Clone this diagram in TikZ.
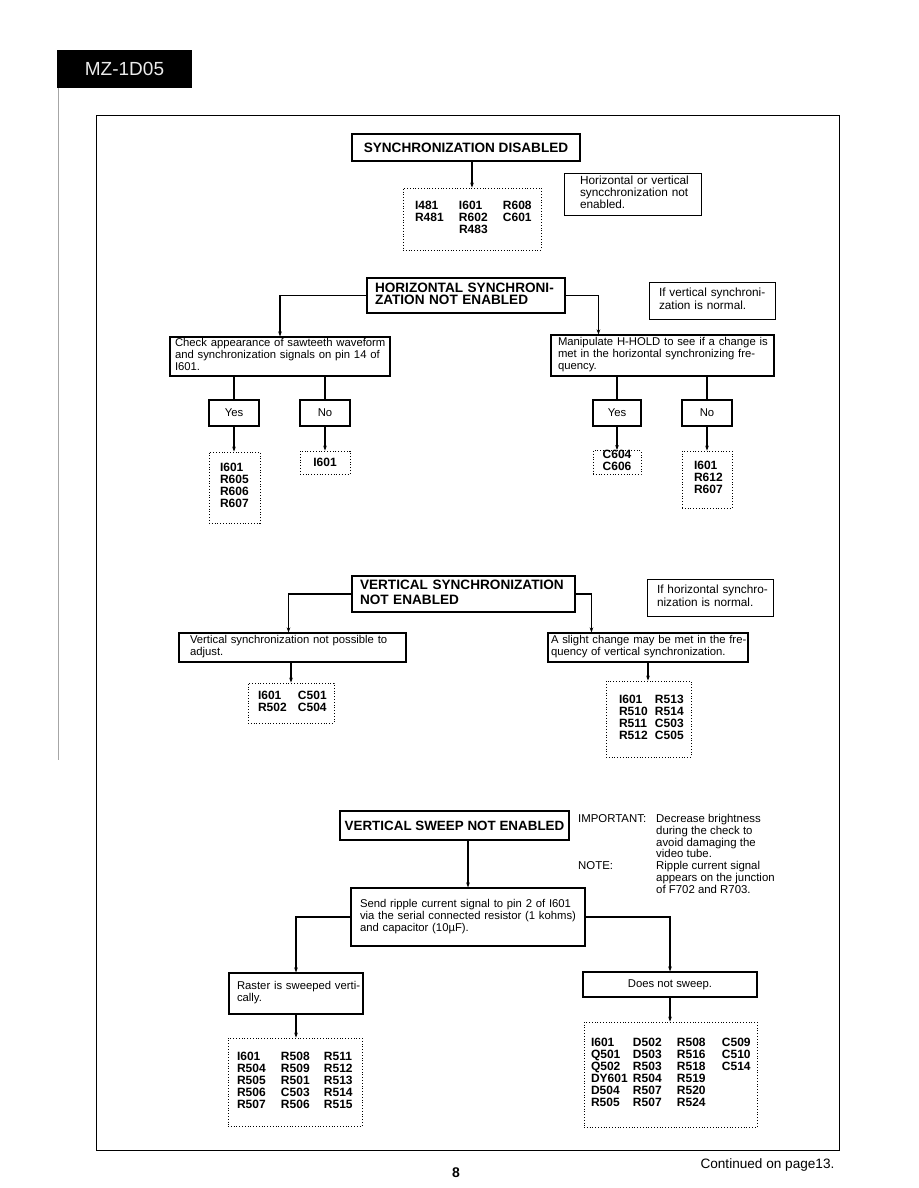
\documentclass[tikz,border=0pt]{standalone}
\usepackage{fontspec}
\setmainfont{Liberation Sans}
\usetikzlibrary{arrows.meta,calc}
\setlength{\tabcolsep}{0pt}
\newcommand\descfont{\fontsize{11.3}{12}\selectfont}
\newcommand\notefont{\fontsize{11.8}{12}\selectfont}
\newcommand\compfont{\bfseries\fontsize{12}{12}\selectfont}
\newcommand\hdrfont{\bfseries\fontsize{13.6}{13}\selectfont}
\newcommand\tl[1]{\begin{tabular}{@{}l@{}}#1\end{tabular}}
\newcommand\cc[2]{\makebox[#1pt][l]{#2}}
\begin{document}
\begin{tikzpicture}[x=1pt,y=-1pt,
  box/.style={draw, line width=1.1pt, rectangle, inner ysep=0pt, font=\descfont, align=left},
  notebox/.style={draw, line width=0.8pt, rectangle, inner ysep=0pt, font=\notefont, align=left},
  hdr/.style={draw, line width=1.9pt, rectangle, inner ysep=0pt, font=\hdrfont, align=left},
  dots/.style={draw, dotted, line width=0.8pt, rectangle, inner ysep=0pt, font=\compfont, align=left},
  sz/.style n args={2}{minimum width=#1pt, minimum height=#2pt},
  tw/.style n args={2}{text width=#1pt, inner xsep=#2pt},
  conn/.style={line width=1.1pt},
  arr/.style={conn, -{Stealth[length=5pt,width=3.6pt]}}]
\useasboundingbox (0,0) rectangle (918,1188);
\fill[white] (0,0) rectangle (918,1188);

% header
\node[fill=black, sz={135}{38}, text=black!8, font=\fontsize{19}{19}\selectfont] (title) at (124.5,69) {MZ-1D05};
\draw[black!35, line width=0.6pt] (58,88) -- (58,760);
% frame
\draw[line width=1pt] (96,116) rectangle (839,1150);

% section 1
\node[hdr, sz={228}{27}, align=center] (sd) at (466,147.5) {SYNCHRONIZATION DISABLED};
\node[dots, sz={138}{62}, tw={114}{12}] (sdlist) at (472,219) {\tl{\cc{44}{I481}\cc{44}{I601}R608\\ \cc{44}{R481}\cc{44}{R602}C601\\ \cc{44}{}R483}};
\node[notebox, sz={137}{42}, tw={105}{16}] (note1) at (632.5,194) {\tl{Horizontal or vertical\\ syncchronization not\\ enabled.}};
\draw[arr] (sd.south -| sdlist.north) -- (sdlist.north);

% section 2
\node[hdr, sz={198}{35}, tw={182}{8}] (hs) at (466,295.5) {\tl{HORIZONTAL SYNCHRONI-\\[-1pt] ZATION NOT ENABLED}};
\node[notebox, sz={126}{37}, tw={106}{10}] (note2) at (712,300.5) {\tl{If vertical synchroni-\\ zation is normal.}};
\node[box, sz={220}{39}, tw={210}{5}] (check) at (280,356.5) {\tl{Check appearance of sawteeth waveform\\ and synchronization signals on pin 14 of\\ I601.}};
\node[box, sz={223}{41}, tw={209}{7}] (man) at (662.5,355.5) {\tl{Manipulate H-HOLD to see if a change is\\ met in the horizontal synchronizing fre-\\ quency.}};
\coordinate (manin) at ($(man.north west)+(48,0)$);
\draw[arr] (hs.west) -| (check.north);
\draw[arr] (hs.east) -| (manin);

\node[box, sz={50}{26}, align=center] (yes1) at (234,413) {Yes};
\node[box, sz={50}{26}, align=center] (no1) at (325,413) {No};
\node[box, sz={48}{26}, align=center] (yes2) at (617,413) {Yes};
\node[box, sz={50}{26}, align=center] (no2) at (707,413) {No};
\draw[conn] (check.south -| yes1.north) -- (yes1.north);
\draw[conn] (check.south -| no1.north) -- (no1.north);
\draw[conn] (man.south -| yes2.north) -- (yes2.north);
\draw[conn] (man.south -| no2.north) -- (no2.north);

\node[dots, sz={51}{71}, tw={29}{11}] (l1) at (234.5,487.5) {\tl{I601\\ R605\\ R606\\ R607}};
\node[dots, sz={50}{23}, align=center] (l2) at (325,462.5) {I601};
\node[dots, sz={48}{23}, align=center] (l3) at (617,462.5) {\tl{C604\\ C606}};
\node[dots, sz={50}{57}, tw={26}{12}] (l4) at (707,479.5) {\tl{I601\\ R612\\ R607}};
\draw[arr] (yes1.south) -- (yes1.south |- l1.north);
\draw[arr] (no1.south) -- (no1.south |- l2.north);
\draw[arr] (yes2.south) -- (yes2.south |- l3.north);
\draw[arr] (no2.south) -- (no2.south |- l4.north);

% section 3
\node[hdr, sz={223}{36}, tw={207}{8}] (vs) at (463.5,594) {\tl{VERTICAL SYNCHRONIZATION\\[1pt] NOT ENABLED}};
\node[notebox, sz={126}{37}, tw={106}{10}] (note3) at (710,597.5) {\tl{If horizontal synchro-\\ nization is normal.}};
\node[box, sz={227}{29}, tw={205}{11}] (vadj) at (292.5,647.5) {\tl{Vertical synchronization not possible to\\ adjust.}};
\node[box, sz={200}{29}, tw={194}{3}] (vslight) at (648,647.5) {\tl{A slight change may be met in the fre-\\ quency of vertical synchronization.}};
\coordinate (vadjin) at ($(vadj.north)+(-4,0)$);
\coordinate (vslin) at ($(vslight.north west)+(44,0)$);
\draw[arr] (vs.west) -| (vadjin);
\draw[arr] (vs.east) -| (vslin);
\node[dots, sz={86}{40}, tw={66}{10}] (l5) at (291,703) {\tl{\cc{40}{I601}C501\\ \cc{40}{R502}C504}};
\node[dots, sz={85}{76}, tw={59}{13}] (l6) at (648.5,719) {\tl{\cc{36}{I601}R513\\ \cc{36}{R510}R514\\ \cc{36}{R511}C503\\ \cc{36}{R512}C505}};
\draw[arr] (vadj.south -| l5.north) -- (l5.north);
\draw[arr] (vslight.south) -- (vslight.south |- l6.north);

% section 4
\node[hdr, sz={229}{29}, align=center, font=\bfseries\fontsize{13.4}{13}\selectfont] (sweep) at (454.5,825.5) {VERTICAL SWEEP NOT ENABLED};
\node[anchor=north west, inner sep=0pt, font=\fontsize{11.4}{11.7}\selectfont, align=left] (imp) at (578,814) {\tl{\cc{78}{IMPORTANT:}Decrease brightness\\ \cc{78}{}during the check to\\ \cc{78}{}avoid damaging the\\ \cc{78}{}video tube.\\ \cc{78}{NOTE:}Ripple current signal\\ \cc{78}{}appears on the junction\\ \cc{78}{}of F702 and R703.}};
\node[box, sz={234}{58}, tw={216}{9}] (send) at (468,917) {\tl{Send ripple current signal to pin 2 of I601\\ via the serial connected resistor (1 kohms)\\ and capacitor (10µF).}};
\draw[arr] (sweep.south -| send.north) -- (send.north);
\node[box, sz={134}{41}, tw={118}{8}] (raster) at (296,993.5) {\tl{Raster is sweeped verti-\\ cally.}};
\node[box, sz={174}{25}, align=center] (dns) at (670,984.5) {Does not sweep.};
\draw[arr] (send.west) -| (raster.north);
\draw[arr] (send.east) -| (dns.north);
\node[dots, sz={134}{88}, tw={116}{9}] (l7) at (295,1082) {\tl{\cc{44}{I601}\cc{43}{R508}R511\\ \cc{44}{R504}\cc{43}{R509}R512\\ \cc{44}{R505}\cc{43}{R501}R513\\ \cc{44}{R506}\cc{43}{C503}R514\\ \cc{44}{R507}\cc{43}{R506}R515}};
\node[dots, sz={173}{105}, tw={159}{7}] (l8) at (670.5,1074.5) {\tl{\cc{42}{I601}\cc{44}{D502}\cc{45}{R508}C509\\ \cc{42}{Q501}\cc{44}{D503}\cc{45}{R516}C510\\ \cc{42}{Q502}\cc{44}{R503}\cc{45}{R518}C514\\ \cc{42}{DY601}\cc{44}{R504}R519\\ \cc{42}{D504}\cc{44}{R507}R520\\ \cc{42}{R505}\cc{44}{R507}R524}};
\draw[arr] (raster.south) -- (raster.south |- l7.north);
\draw[arr] (dns.south) -- (dns.south |- l8.north);

% footer
\node[font=\bfseries\fontsize{14}{14}\selectfont] (pg) at (456,1173) {8};
\node[anchor=west, font=\fontsize{13.6}{13}\selectfont] (cont) at (697,1165) {Continued on page13.};
\end{tikzpicture}
\end{document}
